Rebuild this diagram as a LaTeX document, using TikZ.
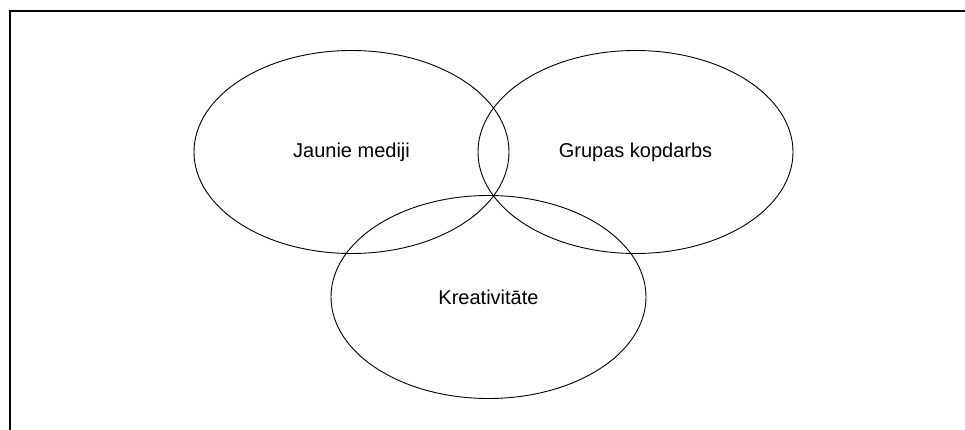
\documentclass[tikz,border=0pt]{standalone}
\usepackage{fontspec}
\setmainfont{Liberation Sans}
\usetikzlibrary{shapes.geometric}
\tikzset{
	venn/.style={
			draw, ellipse, line width=0.9pt,
			minimum width=315pt, minimum height=203pt,
			inner sep=0pt, outer sep=0pt,
			font=\fontsize{20}{24}\selectfont
		},
	frame/.style={line width=1.6pt}
}

\begin{document}
\begin{tikzpicture}[x=1pt,y=-1pt]
            \useasboundingbox (0,0) rectangle (965,430);
            \coordinate (tl) at (10,11);
            \coordinate (tr) at (965,11);
            \coordinate (bl) at (10,430);
            \draw[frame] (bl) -- (tl) -- (tr);
            \node[venn] (jm) at (351.5,152) {Jaunie mediji};
            \node[venn] (gk) at (635.5,152) {Grupas kopdarbs};
            \node[venn] (kr) at (488.5,297) {Kreativitāte};
        \end{tikzpicture}
\end{document}
